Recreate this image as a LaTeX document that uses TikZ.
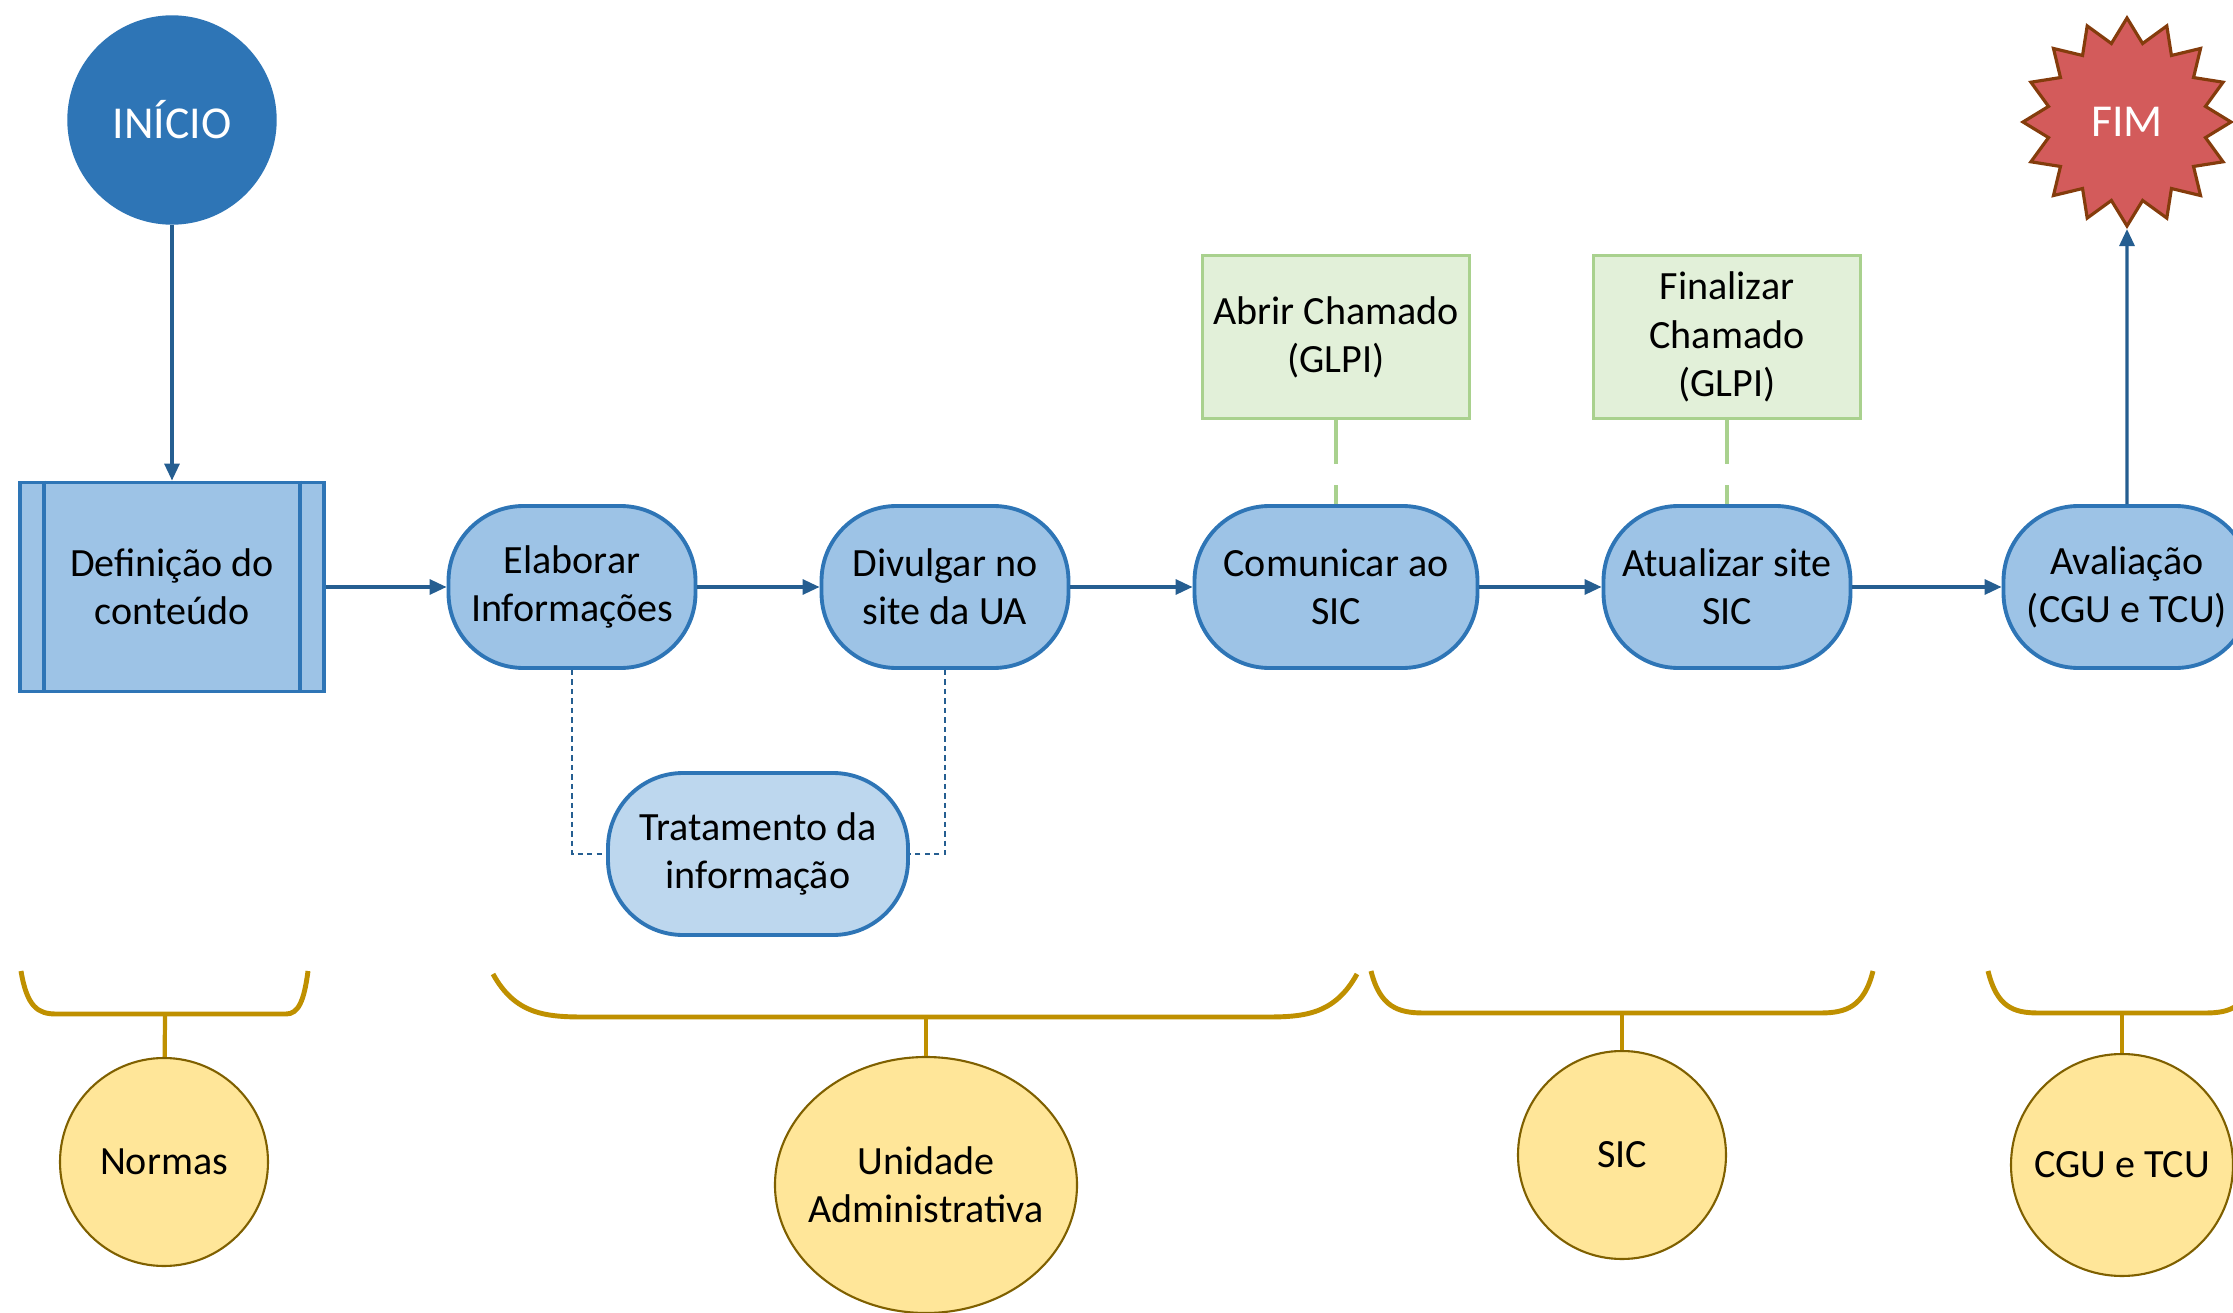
\documentclass[tikz,border=0pt]{standalone}
\usepackage{fontspec}
\setmainfont{Carlito}
\usetikzlibrary{shapes.geometric,arrows.meta}

\definecolor{azul}{HTML}{2E75B6}
\definecolor{azulclaro}{HTML}{9DC3E6}
\definecolor{azulpalido}{HTML}{BDD7EE}
\definecolor{seta}{HTML}{255E91}
\definecolor{verde}{HTML}{A9D18E}
\definecolor{verdeclaro}{HTML}{E2F0D9}
\definecolor{ouro}{HTML}{BF9000}
\definecolor{amarelo}{HTML}{FFE699}
\definecolor{oliva}{HTML}{7F6000}
\definecolor{vermelho}{HTML}{D35B5B}
\definecolor{marrom}{HTML}{843C0C}

\tikzset{
    texto/.style = {font=\fontsize{11.4}{13.7}\selectfont, align=center, text=black},
    etapa/.style = {texto, draw=azul, line width=1.1pt, fill=azulclaro, rounded corners=0.75cm,
                    minimum width=2.47cm, minimum height=1.62cm, inner sep=0pt},
    chamado/.style = {texto, draw=verde, line width=1.1pt, fill=verdeclaro,
                      minimum width=2.67cm, minimum height=1.63cm, inner sep=0pt},
    ator/.style = {ellipse, draw=oliva, line width=0.6pt, fill=amarelo,
                   minimum width=2.08cm, minimum height=2.08cm, inner sep=0pt},
    fluxo/.style = {draw=seta, line width=0.9pt, -{Triangle[length=0.17cm,width=0.15cm]}},
    chave/.style = {draw=ouro, line width=1.4pt},
}

\begin{document}
\begin{tikzpicture}
        \useasboundingbox (0,0) rectangle (22.33,13.12);
        % inicio e fim
        \node[circle, fill=azul, draw=azul, minimum size=2.08cm, text=white,
              font=\fontsize{13}{15}\selectfont] (inicio) at (1.72,11.92) {INÍCIO};
        \node[star, star points=16, star point ratio=1.3, minimum size=2.08cm, inner sep=0pt,
              fill=vermelho, draw=marrom, line width=0.9pt, text=white,
              font=\fontsize{13}{15}\selectfont] (fim) at (21.27,11.90) {FIM};
        % etapas
        \node[texto, draw=azul, line width=1.1pt, fill=azulclaro, minimum width=3.04cm,
              minimum height=2.09cm, inner sep=0pt] (defin) at (1.72,7.25) {Definição do\\conteúdo};
        \draw[azul, line width=1.1pt] ([xshift=0.26cm]defin.north west) -- ([xshift=0.26cm]defin.south west);
        \draw[azul, line width=1.1pt] ([xshift=-0.26cm]defin.north east) -- ([xshift=-0.26cm]defin.south east);
        \node[etapa] (elab) at (5.72,7.25) {Elaborar\\Informações};
        \node[etapa] (divul) at (9.45,7.25) {Divulgar no\\site da UA};
        \node[etapa, minimum width=2.83cm] (comun) at (13.36,7.25) {Comunicar ao\\SIC};
        \node[etapa] (atual) at (17.27,7.25) {Atualizar site\\SIC};
        \node[etapa] (aval) at (21.27,7.25) {Avaliação\\(CGU e TCU)};
        \node[etapa, fill=azulpalido, minimum width=3.0cm] (trat) at (7.58,4.58) {Tratamento da\\informação};
        % chamados
        \node[chamado] (abrir) at (13.36,9.75) {Abrir Chamado\\(GLPI)};
        \node[chamado] (final) at (17.27,9.75) {Finalizar\\Chamado\\(GLPI)};
        % fluxo
        \draw[fluxo] (inicio) -- (defin);
        \draw[fluxo] (defin) -- (elab);
        \draw[fluxo] (elab) -- (divul);
        \draw[fluxo] (divul) -- (comun);
        \draw[fluxo] (comun) -- (atual);
        \draw[fluxo] (atual) -- (aval);
        \draw[fluxo] (aval) -- (fim.south);
        \draw[seta, line width=0.8pt, dash pattern=on 1.5pt off 1.2pt] (elab.south) |- (trat.west);
        \draw[seta, line width=0.8pt, dash pattern=on 1.5pt off 1.2pt] (divul.south) |- (trat.east);
        \draw[verde, line width=1.1pt, dash pattern=on 0.44cm off 0.21cm] (abrir.south) -- (comun.north);
        \draw[verde, line width=1.1pt, dash pattern=on 0.44cm off 0.21cm] (final.south) -- (atual.north);
        % chaves
        \draw[chave] (0.21,3.41) .. controls (0.27,3.05) and (0.38,2.98) .. (0.56,2.98)
            -- (2.86,2.98) .. controls (2.98,2.98) and (3.04,3.1) .. (3.08,3.41);
        \draw[chave] (4.93,3.38) .. controls (5.15,2.98) and (5.45,2.95) .. (5.84,2.95)
            -- (12.67,2.95) .. controls (13.05,2.95) and (13.35,2.98) .. (13.57,3.38);
        \draw[chave] (13.71,3.41) .. controls (13.8,3.05) and (13.98,2.99) .. (14.24,2.99)
            -- (18.20,2.99) .. controls (18.46,2.99) and (18.64,3.05) .. (18.73,3.41);
        \draw[chave] (19.88,3.41) .. controls (19.97,3.05) and (20.13,2.99) .. (20.39,2.99)
            -- (22.05,2.99) .. controls (22.31,2.99) and (22.47,3.05) .. (22.56,3.41);
        \coordinate (c1) at (1.65,2.98);
        \coordinate (c2) at (9.26,2.95);
        \coordinate (c3) at (16.22,2.99);
        \coordinate (c4) at (21.22,2.99);
        % atores
        \node[ator] (normas) at (1.64,1.50) {};
        \node[ator, minimum width=3.02cm, minimum height=2.56cm] (unid) at (9.26,1.27) {};
        \node[ator] (sic) at (16.22,1.57) {};
        \node[ator, minimum size=2.22cm] (cgu) at (21.22,1.47) {};
        \node[texto] (tnormas) at (normas) {Normas};
        \node[texto] (tunid) at (unid) {Unidade\\Administrativa};
        \node[texto] (tsic) at (sic) {SIC};
        \node[texto] (tcgu) at (cgu) {CGU e TCU};
        \draw[chave, line width=1.2pt] (c1) -- (normas);
        \draw[chave, line width=1.2pt] (c2) -- (unid);
        \draw[chave, line width=1.2pt] (c3) -- (sic);
        \draw[chave, line width=1.2pt] (c4) -- (cgu);
    \end{tikzpicture}
\end{document}
